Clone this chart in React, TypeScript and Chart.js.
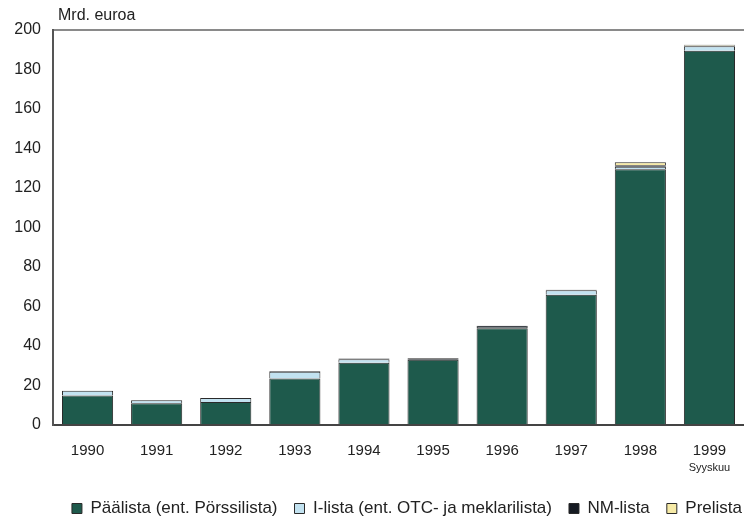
import React, { useEffect, useRef } from "react";
import { Chart, registerables } from "chart.js";

Chart.register(...registerables);

const categories = ["1990", "1991", "1992", "1993", "1994", "1995", "1996", "1997", "1998", "1999"];
const paalista = [15, 11, 11.7, 23.5, 31.5, 33, 49, 66, 129.5, 189.5];
const ilista = [2.3, 1.5, 2, 3.5, 1.8, null, 0.6, 2.2, 1.2, 2.3];
const nmlista = [null, null, null, 0.3, 0.4, 0.8, 0.7, 0.3, 0.8, 0.4];
const prelista = [null, null, null, null, null, null, null, null, 1.5, 0.3];
const yTicks = [0, 20, 40, 60, 80, 100, 120, 140, 160, 180, 200];
const unitLabel = "Mrd. euroa";
const lastNote = "Syyskuu";

const FONT = "'Liberation Sans', Arial, Helvetica, sans-serif";
const TEXT = "#222222";
const W = 760;
const H = 527;

const extras = {
  id: "extras",
  afterDraw(chart: any) {
    const ctx = chart.ctx;
    const xs = chart.scales.x;
    ctx.save();
    ctx.fillStyle = TEXT;
    ctx.font = `16px ${FONT}`;
    ctx.textAlign = "left";
    ctx.textBaseline = "middle";
    ctx.fillText(unitLabel, 58, 16);
    ctx.font = `11px ${FONT}`;
    ctx.textAlign = "center";
    ctx.fillText(lastNote, xs.getPixelForValue(categories.length - 1), 468);
    ctx.restore();
  },
};

export default function App() {
  const ref = useRef<HTMLCanvasElement | null>(null);
  useEffect(() => {
    if (!ref.current) return;
    const border = "#2a2a2a";
    const chart = new Chart(ref.current, {
      type: "bar",
      data: {
        labels: categories,
        datasets: [
          { label: "Päälista (ent. Pörssilista)", data: paalista, backgroundColor: "#1e5a4c", borderColor: border, borderWidth: 1 },
          { label: "I-lista (ent. OTC- ja meklarilista)", data: ilista as any, backgroundColor: "#c2e2f0", borderColor: border, borderWidth: 1 },
          { label: "NM-lista", data: nmlista as any, backgroundColor: "#151a22", borderColor: border, borderWidth: 1 },
          { label: "Prelista", data: prelista as any, backgroundColor: "#f6eaa6", borderColor: border, borderWidth: 1 },
        ],
      },
      options: {
        responsive: false,
        animation: false,
        layout: { padding: { top: 30, left: 0, right: 1, bottom: 0 } },
        datasets: { bar: { barPercentage: 0.74, categoryPercentage: 1 } },
        plugins: {
          legend: {
            position: "bottom",
            align: "end",
            labels: {
              font: { family: FONT, size: 17 },
              color: TEXT,
              boxWidth: 10,
              boxHeight: 10,
              padding: 17,
            },
          },
          tooltip: { enabled: false },
        },
        scales: {
          x: {
            stacked: true,
            grid: { display: false, drawTicks: false },
            border: { display: true, color: "#444", width: 2 },
            ticks: { font: { family: FONT, size: 15 }, color: TEXT, padding: 17, maxRotation: 0 },
            afterFit: (s: any) => { s.height = 58; },
          },
          y: {
            stacked: true,
            min: 0,
            max: 200,
            afterBuildTicks: (s: any) => { s.ticks = yTicks.map((v) => ({ value: v })); },
            grid: {
              drawTicks: false,
              color: (c: any) => (c.tick && c.tick.value === 200 ? "#8a8a8a" : "rgba(0,0,0,0)"),
              lineWidth: 2,
            },
            border: { display: true, color: "#555", width: 2 },
            ticks: { font: { family: FONT, size: 16 }, color: TEXT, padding: 12 },
            afterFit: (s: any) => { s.width = 53; },
          },
          yRight: {
            type: "linear",
            position: "right",
            min: 0,
            max: 1,
            ticks: { display: false },
            grid: { display: false },
            border: { display: false },
            afterFit: (s: any) => { s.width = 15; },
          },
        },
      },
      plugins: [extras],
    });
    return () => chart.destroy();
  }, []);
  return (
    <div style={{ position: "fixed", left: 0, top: 0, width: W, height: H, background: "#fff" }}>
      <canvas ref={ref} width={W} height={H} style={{ width: W, height: H, display: "block" }} />
    </div>
  );
}
